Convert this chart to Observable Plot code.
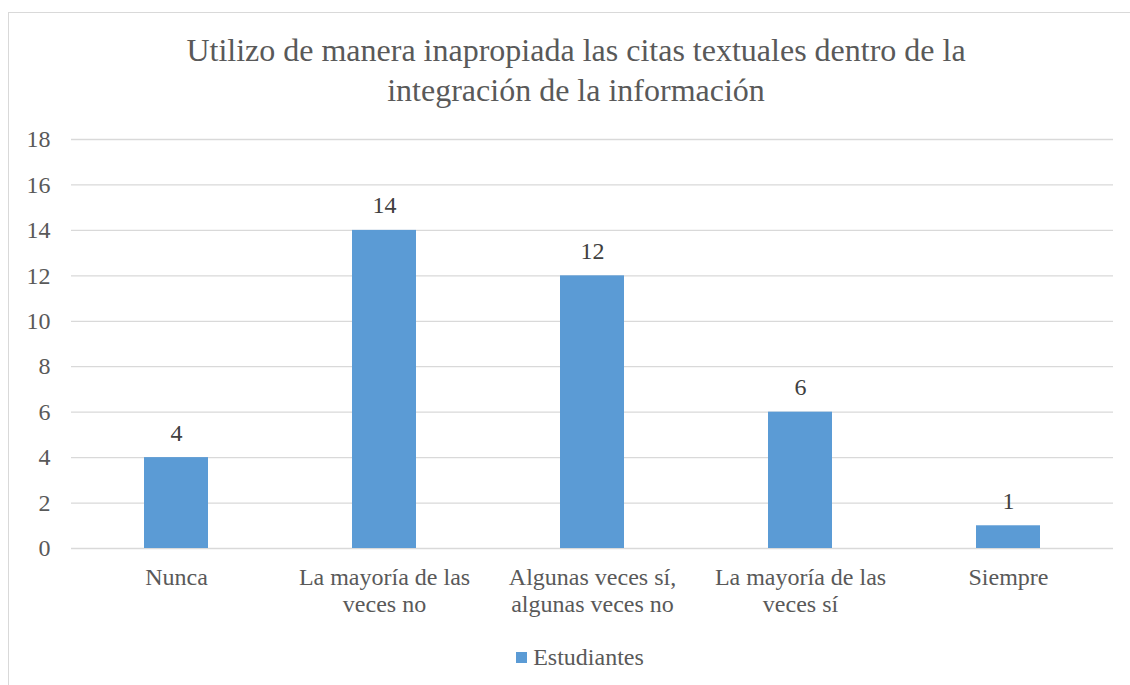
<!DOCTYPE html>
<html>
<head>
<meta charset="utf-8">
<script src="https://cdn.jsdelivr.net/npm/d3@7"></script>
<script src="https://cdn.jsdelivr.net/npm/@observablehq/plot@0.6"></script>
<style>
  body { margin: 0; background: #fff; }
  #wrap { position: relative; width: 1130px; height: 685px; overflow: hidden; font-family: "Liberation Serif", "Times New Roman", serif; color: #595959; }
  #frame { position: absolute; left: 8px; top: 12px; width: 1140px; height: 700px; border: 1px solid #d9d9d9; box-sizing: border-box; }
  #title { position: absolute; left: 76px; width: 1000px; top: 30px; text-align: center; font-size: 32px; line-height: 40px; }
  #legend { position: absolute; left: 0; width: 1160px; top: 643px; text-align: center; font-size: 24px; line-height: 28px; }
  #legend .sw { display: inline-block; width: 11px; height: 11px; background: #5B9BD5; margin-right: 6px; vertical-align: 2px; }
  #chart { position: absolute; left: 0; top: 0; }
</style>
</head>
<body>
<div id="wrap">
  <div id="frame"></div>
  <div id="chart"></div>
  <div id="title">Utilizo de manera inapropiada las citas textuales dentro de la<br>integración de la información</div>
  <div id="legend"><span class="sw"></span>Estudiantes</div>
</div>
<script>
const categories = ["Nunca", "La mayoría de las veces no", "Algunas veces sí, algunas veces no", "La mayoría de las veces sí", "Siempre"];
const tickLabels = ["Nunca", "La mayoría de las\nveces no", "Algunas veces sí,\nalgunas veces no", "La mayoría de las\nveces sí", "Siempre"];
const values = [4, 14, 12, 6, 1];
const yTicks = [0, 2, 4, 6, 8, 10, 12, 14, 16, 18];

const data = categories.map((c, i) => ({category: c, value: values[i]}));
const labelOf = new Map(categories.map((c, i) => [c, tickLabels[i]]));

const chart = Plot.plot({
  width: 1130,
  height: 685,
  marginTop: 139,
  marginBottom: 137,
  marginLeft: 71,
  marginRight: 17,
  style: {fontFamily: "'Liberation Serif', 'Times New Roman', serif", fontSize: "24px", color: "#595959", background: "transparent"},
  x: {domain: categories, paddingInner: 0.69, paddingOuter: 0.345, align: 0.5},
  y: {domain: [0, 18]},
  marks: [
    Plot.ruleY(yTicks, {stroke: "#d9d9d9", strokeWidth: 1.3}),
    Plot.barY(data, {x: "category", y: "value", fill: "#5B9BD5"}),
    Plot.text(data, {x: "category", y: "value", text: d => String(d.value), lineAnchor: "bottom", dy: -17, fontSize: 24, fill: "#404040"}),
    Plot.axisY({ticks: yTicks, tickSize: 0, tickPadding: 21, label: null, fontSize: 24, fill: "#595959"}),
    Plot.axisX({tickSize: 0, tickPadding: 17, label: null, fontSize: 24, lineHeight: 1.13, fill: "#595959", tickFormat: d => labelOf.get(d)})
  ]
});
document.getElementById("chart").appendChild(chart);
</script>
</body>
</html>
